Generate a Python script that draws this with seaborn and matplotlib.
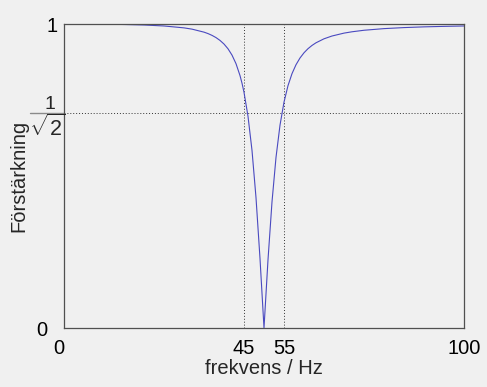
import numpy as np
import pandas as pd
import matplotlib
matplotlib.use("Agg")
import matplotlib.pyplot as plt
import seaborn as sns

# Values
freq = [0, 5, 10, 15, 20, 25, 30, 32, 35, 36, 37, 38, 39, 40, 41, 42, 43, 44, 44.5,
        45, 46, 47, 48, 49, 50, 51, 52, 53, 54, 55, 56, 57, 58, 59, 60, 61, 62,
        63, 65, 67, 70, 72, 75, 80, 85, 90, 95, 100]
gain = [1.0, 0.9999, 0.9994, 0.9984, 0.9967, 0.9935, 0.9873, 0.9831, 0.9732,
        0.9685, 0.9626, 0.9553, 0.9460, 0.9341, 0.9185, 0.8977, 0.8695, 0.8304,
        0.8053, 0.7753, 0.6965, 0.5843, 0.4289, 0.2287, 0.0, 0.2244, 0.4150,
        0.5611, 0.6672, 0.7430, 0.7972, 0.8367, 0.8660, 0.8882, 0.9053, 0.9188,
        0.9295, 0.9382, 0.9513, 0.9605, 0.9700, 0.9744, 0.9794, 0.9848, 0.9882,
        0.9906, 0.9922, 0.9935]
cutoff_freqs = [45, 55]
half_power = 1 / np.sqrt(2)
xtick_vals = [0, 45, 55, 100]
xtick_labels = ["0", "45", "55", "100"]
ytick_vals = [0, half_power, 1]
ytick_labels = ["0", "", "1"]
frac_num = "1"
frac_den = r"$\sqrt{2}$"
xlabel = "frekvens / Hz"
ylabel = "Förstärkning"

sns.set_theme(style="white")
plt.rcParams["font.family"] = ["Liberation Sans", "DejaVu Sans"]
plt.rcParams["mathtext.fontset"] = "custom"
plt.rcParams["mathtext.rm"] = "Liberation Sans"
plt.rcParams["mathtext.it"] = "Liberation Sans:italic"

PX = 0.72  # points per pixel at dpi 100
bg = "#f0f0f0"
fig = plt.figure(figsize=(4.87, 3.87), dpi=100, facecolor=bg)
ax = fig.add_axes([64 / 487, 59 / 387, 400 / 487, 304 / 387])
ax.set_facecolor(bg)

df = pd.DataFrame({"f": freq, "g": gain})
sns.lineplot(data=df, x="f", y="g", ax=ax, color="#4a4ac0", linewidth=0.8)

for fc in cutoff_freqs:
    ax.axvline(fc, color="#333333", linestyle=(0, (1, 2)), linewidth=0.7, zorder=1)
ax.axhline(half_power, color="#333333", linestyle=(0, (1, 2)), linewidth=0.7, zorder=1)

ax.set_xlim(0, 100)
ax.set_ylim(0, 1)
ax.set_xticks(xtick_vals)
ax.set_xticklabels(xtick_labels)
ax.set_yticks(ytick_vals)
ax.set_yticklabels(ytick_labels)
ax.tick_params(axis="both", length=0, labelsize=14.5, colors="black")
ax.tick_params(axis="x", pad=8)
ax.tick_params(axis="y", pad=6 * PX)
ax.yaxis.get_major_ticks()[0].set_pad(17 * PX)
ax.get_xticklabels()[0].set_horizontalalignment("right")

# fraction label 1/sqrt(2) at the half-power level
ax.axhline(half_power, xmin=-34 / 400, xmax=0, color="#8a8a8a", linewidth=1.0,
           clip_on=False)
ax.annotate(frac_num, xy=(0, half_power), xycoords=("axes fraction", "data"),
            xytext=(-14.5 * PX, 4.5 * PX), textcoords="offset points",
            ha="center", va="baseline", fontsize=14, annotation_clip=False)
ax.annotate(frac_den, xy=(0, half_power), xycoords=("axes fraction", "data"),
            xytext=(-17 * PX, -2.0 * PX), textcoords="offset points",
            ha="center", va="top", fontsize=15.5, annotation_clip=False)

for s in ax.spines.values():
    s.set_visible(True)
    s.set_color("#505050")
    s.set_linewidth(0.9)

ax.set_xlabel(xlabel, fontsize=14.5, labelpad=0.5)
ax.set_ylabel(ylabel, fontsize=14.5)
ax.yaxis.set_label_coords(-36 / 400, 0.5)

fig.savefig("out.png", dpi=100, facecolor=bg)
